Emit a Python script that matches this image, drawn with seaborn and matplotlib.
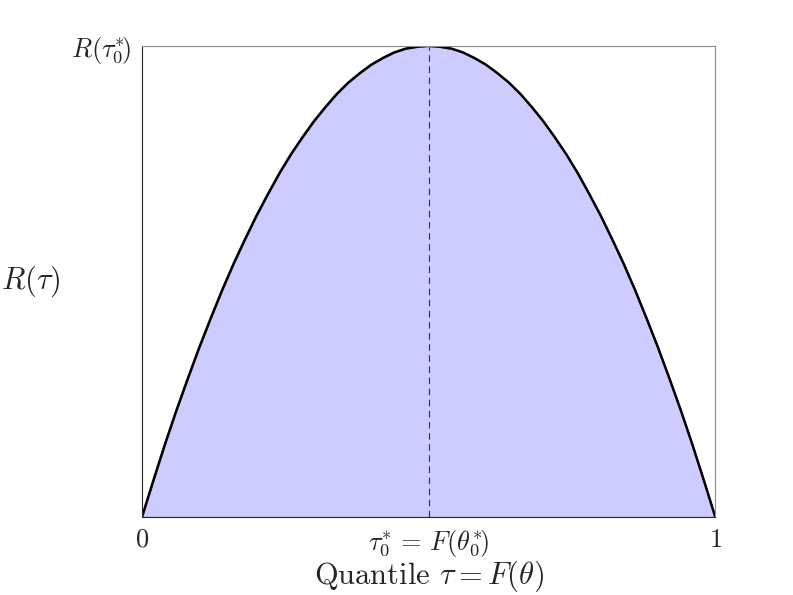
import matplotlib
matplotlib.use('Agg')

import matplotlib.pyplot as plt
import seaborn as sns
import pandas as pd


# ---------------------------------------------------
# Data
# ---------------------------------------------------

tau = [0.00, 0.02, 0.04, 0.06, 0.08, 0.10, 0.12, 0.14, 0.16, 0.18,
       0.20, 0.22, 0.24, 0.26, 0.28, 0.30, 0.32, 0.34, 0.36, 0.38,
       0.40, 0.42, 0.44, 0.46, 0.48, 0.50, 0.52, 0.54, 0.56, 0.58,
       0.60, 0.62, 0.64, 0.66, 0.68, 0.70, 0.72, 0.74, 0.76, 0.78,
       0.80, 0.82, 0.84, 0.86, 0.88, 0.90, 0.92, 0.94, 0.96, 0.98,
       1.00]

revenue = [0.000, 0.078, 0.154, 0.226, 0.294, 0.360, 0.422, 0.482, 0.538, 0.590,
           0.640, 0.686, 0.730, 0.770, 0.806, 0.840, 0.870, 0.898, 0.922, 0.942,
           0.960, 0.974, 0.986, 0.994, 0.998, 1.000, 0.998, 0.994, 0.986, 0.974,
           0.960, 0.942, 0.922, 0.898, 0.870, 0.840, 0.806, 0.770, 0.730, 0.686,
           0.640, 0.590, 0.538, 0.482, 0.422, 0.360, 0.294, 0.226, 0.154, 0.078,
           0.000]

tau_star = 0.5
r_star = 1.0

x_ticks = [0, tau_star, 1]
x_tick_labels = ['$0$', r'$\tau_0^{*}\,=\,F(\theta_0^{*}\!)$', '$1$']
y_ticks = [r_star]
y_tick_labels = [r'$R(\tau_0^{*}\!)$']

df = pd.DataFrame({'tau': tau, 'R': revenue})


# ---------------------------------------------------
# Plot
# ---------------------------------------------------

sns.set_style('white')
plt.rcParams['mathtext.fontset'] = 'cm'
plt.rcParams['font.family'] = ['serif']
plt.rcParams['font.serif'] = ['cmr10', 'DejaVu Serif']
plt.rcParams['axes.formatter.use_mathtext'] = True

fig = plt.figure(figsize=(7.93, 5.95), dpi=100)
ax = fig.add_axes([0.179, 0.131, 0.723, 0.792])

ax.fill_between(
    df['tau'], 0, df['R'],
    facecolor='#ccccff',
    edgecolor='#7373b8',
    linewidth=1.0
)

sns.lineplot(
    data=df, x='tau', y='R',
    color='black', linewidth=1.8, ax=ax
)

ax.plot(
    [tau_star, tau_star], [0, r_star],
    color='#333333', linestyle=(0, (6, 4)), linewidth=0.8
)

ax.set_xlim(0, 1)
ax.set_ylim(0, r_star)

ax.set_xticks(x_ticks)
ax.set_xticklabels(x_tick_labels)
ax.set_yticks(y_ticks)
ax.set_yticklabels(y_tick_labels)
ax.tick_params(length=0, labelsize=19, colors='#262626', pad=8)

ax.set_xlabel(r'Quantile $\tau = F(\theta)$', fontsize=22, color='#262626', labelpad=0)
ax.set_ylabel(r'$R(\tau)$', fontsize=22, color='#262626',
              rotation=0, va='center', ha='center')
ax.yaxis.set_label_coords(-0.194, 0.5)

for side in ['top', 'right']:
    ax.spines[side].set_color('#8c8c8c')
    ax.spines[side].set_linewidth(0.8)
for side in ['left', 'bottom']:
    ax.spines[side].set_color('#262626')
    ax.spines[side].set_linewidth(0.8)

plt.savefig('out.png', dpi=100)
plt.close()
